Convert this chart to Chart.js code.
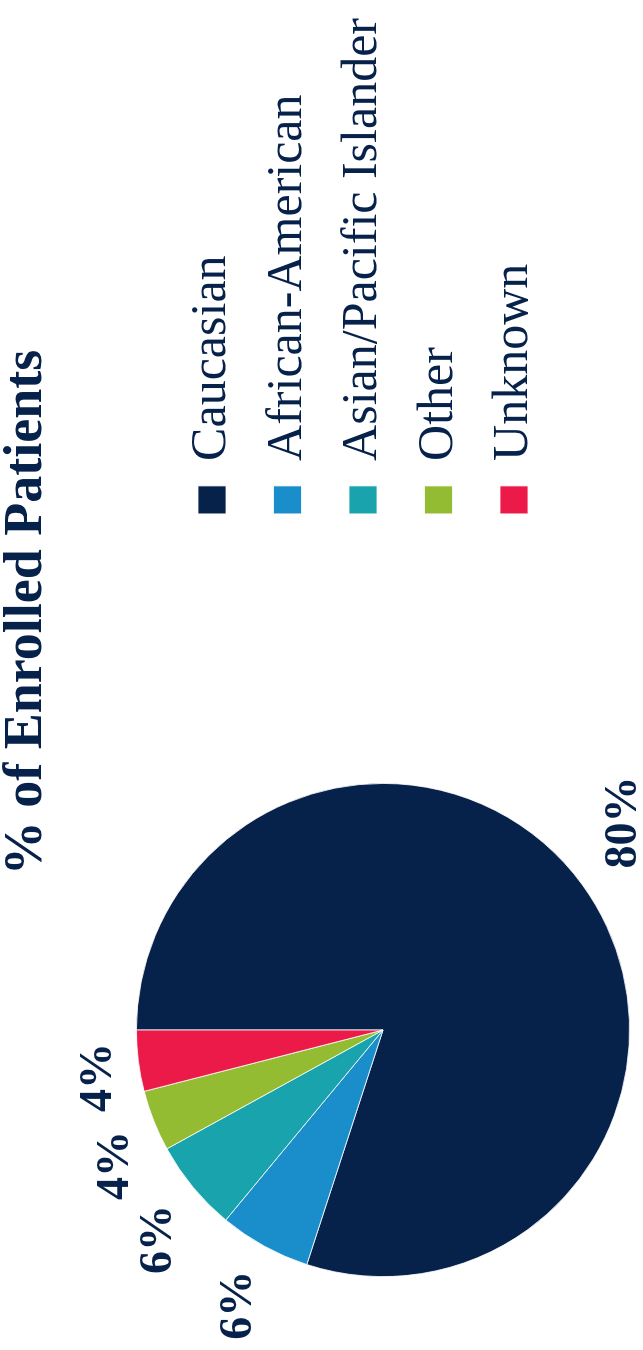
<!DOCTYPE html>
<html>
<head>
<meta charset="utf-8">
<script src="https://cdn.jsdelivr.net/npm/chart.js@4"></script>
<style>
  html, body { margin: 0; padding: 0; background: #fff; overflow: hidden; }
  #wrap {
    position: absolute; left: 0; top: 0;
    width: 1350px; height: 643px;
    transform-origin: 0 0;
    transform: translateY(1350px) rotate(-90deg);
  }
</style>
</head>
<body>
<div id="wrap"><canvas id="myChart" width="1350" height="643"></canvas></div>
<script>
var groups = ['Caucasian', 'African-American', 'Asian/Pacific Islander', 'Other', 'Unknown'];
var shares = [80, 6, 6, 4, 4];
var colors = ['#06214a', '#1a8dcb', '#19a3ad', '#93bc33', '#ec1a48'];

var navy = '#06214a';
var serif = '"Liberation Serif", "Times New Roman", serif';

// pie box inside the canvas: it sits on the left, well away from the legend
var pieBox = { left: 73, top: 136, size: 494 };

var placePie = {
  id: 'placePie',
  afterLayout: function(chart) {
    var a = chart.chartArea;
    a.left = pieBox.left;
    a.top = pieBox.top;
    a.right = pieBox.left + pieBox.size;
    a.bottom = pieBox.top + pieBox.size;
    a.width = pieBox.size;
    a.height = pieBox.size;
  }
};

// percentage labels just outside each slice; the box hangs off an anchor
// point on the slice's middle ray, leaning away from the pie
function clamp1(v) { return Math.max(-1, Math.min(1, v)); }

var outerLabels = {
  id: 'outerLabels',
  afterDatasetsDraw: function(chart) {
    var ctx = chart.ctx;
    ctx.save();
    ctx.font = 'bold 46px ' + serif;
    ctx.fillStyle = navy;
    ctx.textAlign = 'left';
    ctx.textBaseline = 'alphabetic';
    chart.getDatasetMeta(0).data.forEach(function(arc, i) {
      var p = arc.getProps(['x', 'y', 'startAngle', 'endAngle', 'outerRadius'], true);
      var mid = (p.startAngle + p.endAngle) / 2;
      var text = shares[i] + '%';
      var m = ctx.measureText(text);
      var w = m.width;
      var asc = m.actualBoundingBoxAscent, desc = m.actualBoundingBoxDescent;
      var h = asc + desc;
      var d = p.outerRadius + 28;
      var ax = p.x + Math.cos(mid) * d;
      var ay = p.y + Math.sin(mid) * d;
      var cx = ax + clamp1(3 * Math.cos(mid)) * w / 2;
      var cy = ay + clamp1(3 * Math.sin(mid)) * h / 2;
      ctx.fillText(text, cx - w / 2, cy + (asc - desc) / 2);
    });
    ctx.restore();
  }
};

var ctx = document.getElementById('myChart').getContext('2d');
var chart = new Chart(ctx, {
  type: 'pie',
  data: {
    labels: groups,
    datasets: [{
      data: shares,
      backgroundColor: colors,
      borderColor: '#ffffff',
      borderWidth: 0.8
    }]
  },
  options: {
    responsive: false,
    animation: false,
    layout: { padding: { top: 0, right: 8, bottom: 13, left: 133 } },
    plugins: {
      title: {
        display: true,
        text: '% of Enrolled Patients',
        color: navy,
        font: { family: serif, size: 54, weight: 'bold', lineHeight: 1 },
        padding: { top: 0, bottom: 107.5 }
      },
      legend: {
        position: 'right',
        align: 'start',
        fullSize: false,
        labels: {
          color: navy,
          font: { family: serif, size: 50 },
          boxWidth: 28,
          boxHeight: 28,
          padding: 25.5
        }
      },
      tooltip: { enabled: false }
    }
  },
  plugins: [placePie, outerLabels]
});
</script>
</body>
</html>
